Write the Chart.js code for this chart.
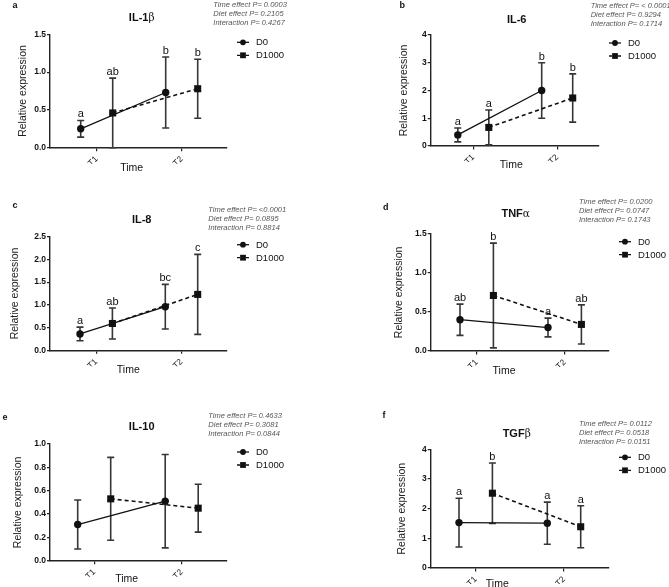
<!DOCTYPE html>
<html>
<head>
<meta charset="utf-8">
<script src="https://cdn.jsdelivr.net/npm/chart.js@4.4.1/dist/chart.umd.min.js"></script>
<style>
  body { margin: 0; background: #fff; }
  #page { position: relative; width: 669px; height: 587px; overflow: hidden;
          font-family: "Liberation Sans", Arial, sans-serif; color: #111; }
  #page canvas { position: absolute; }
  .lbl { position: absolute; transform: translate(-50%, -50%); white-space: nowrap; }
  .tag { font-weight: bold; font-size: 9px; }
  .ttl { font-weight: bold; font-size: 11px; }
  .ttl span { font-weight: normal; font-family: "DejaVu Serif", serif; font-size: 10.5px; }
  .time { font-size: 10.5px; }
  .pv { position: absolute; font-style: italic; font-size: 7.5px; line-height: 9px;
        color: #555; white-space: nowrap; }
</style>
</head>
<body>
<div id="page"></div>
<script>
const times = ['T1', 'T2'];
const groups = ['D0', 'D1000'];

// IL-1b
const il1bD0 = [0.25, 0.73];
const il1bD0Sd = [0.11, 0.47];
const il1bD1000 = [0.46, 0.78];
const il1bD1000Sd = [0.46, 0.39];
const il1bD0Letters = ['a', 'b'];
const il1bD1000Letters = ['ab', 'b'];
const il1bP = ['Time effect P= 0.0003', 'Diet effect P=  0.2105', 'Interaction P= 0.4267'];

// IL-6
const il6D0 = [0.40, 2.00];
const il6D0Sd = [0.25, 1.00];
const il6D1000 = [0.67, 1.73];
const il6D1000Sd = [0.63, 0.87];
const il6D0Letters = ['a', 'b'];
const il6D1000Letters = ['a', 'b'];
const il6P = ['Time effect P= < 0.0001', 'Diet effect P= 0.9294', 'Interaction P= 0.1714'];

// IL-8
const il8D0 = [0.36, 0.96];
const il8D0Sd = [0.15, 0.49];
const il8D1000 = [0.59, 1.23];
const il8D1000Sd = [0.34, 0.88];
const il8D0Letters = ['a', 'bc'];
const il8D1000Letters = ['ab', 'c'];
const il8P = ['Time effect P= <0.0001', 'Diet effect P= 0.0895', 'Interaction P= 0.8814'];

// TNFa
const tnfD0 = [0.40, 0.30];
const tnfD0Sd = [0.20, 0.12];
const tnfD1000 = [0.71, 0.34];
const tnfD1000Sd = [0.67, 0.25];
const tnfD0Letters = ['ab', 'a'];
const tnfD1000Letters = ['b', 'ab'];
const tnfP = ['Time effect P= 0.0200', 'Diet effect P= 0.0747', 'Interaction P= 0.1743'];

// IL-10
const il10D0 = [0.31, 0.51];
const il10D0Sd = [0.21, 0.40];
const il10D1000 = [0.53, 0.45];
const il10D1000Sd = [0.355, 0.205];
const il10P = ['Time effect P= 0.4633', 'Diet effect P= 0.3081', 'Interaction P= 0.0844'];

// TGFb
const tgfD0 = [1.53, 1.51];
const tgfD0Sd = [0.82, 0.71];
const tgfD1000 = [2.52, 1.39];
const tgfD1000Sd = [1.02, 0.71];
const tgfD0Letters = ['a', 'a'];
const tgfD1000Letters = ['b', 'a'];
const tgfP = ['Time effect P= 0.0112', 'Diet effect P= 0.0518', 'Interaction P= 0.0151'];

const panels = [
  { tag: 'a', title: 'IL-1', greek: 'β', p: il1bP, yMax: 1.5, yStep: 0.5, dec: 1,
    series: [[il1bD0, il1bD0Sd, il1bD0Letters], [il1bD1000, il1bD1000Sd, il1bD1000Letters]],
    ox: 0, oy: 0, w: 334, h: 190, L: 50, R: 227, T: 34.3, B: 147.7, t1: 96.7, t2: 181.7, dodge: 16,
    yTitleX: 22.7, tagXY: [15, 5], titleXY: [141.7, 17.3], pXY: [213.3, 0], timeXY: [131.7, 166.7] },
  { tag: 'b', title: 'IL-6', greek: '', p: il6P, yMax: 4, yStep: 1, dec: 0,
    series: [[il6D0, il6D0Sd, il6D0Letters], [il6D1000, il6D1000Sd, il6D1000Letters]],
    ox: 334, oy: 0, w: 335, h: 190, L: 430.7, R: 599, T: 35, B: 146, t1: 473.3, t2: 557.2, dodge: 15.5,
    yTitleX: 404, tagXY: [402.3, 5], titleXY: [516.7, 19], pXY: [590.7, 1.2], timeXY: [511.3, 164] },
  { tag: 'c', title: 'IL-8', greek: '', p: il8P, yMax: 2.5, yStep: 0.5, dec: 1,
    series: [[il8D0, il8D0Sd, il8D0Letters], [il8D1000, il8D1000Sd, il8D1000Letters]],
    ox: 0, oy: 190, w: 334, h: 200, L: 50, R: 227, T: 236.7, B: 350.3, t1: 96.2, t2: 181.5, dodge: 16.2,
    yTitleX: 15, tagXY: [15, 205], titleXY: [141.7, 219.3], pXY: [208.3, 204.8], timeXY: [128.3, 369] },
  { tag: 'd', title: 'TNF', greek: 'α', p: tnfP, yMax: 1.5, yStep: 0.5, dec: 1,
    series: [[tnfD0, tnfD0Sd, tnfD0Letters], [tnfD1000, tnfD1000Sd, tnfD1000Letters]],
    ox: 334, oy: 190, w: 335, h: 200, L: 430.7, R: 609, T: 233.7, B: 351, t1: 476.7, t2: 564.7, dodge: 16.7,
    yTitleX: 399, tagXY: [385.7, 206.7], titleXY: [515.7, 213.3], pXY: [579, 197.2], timeXY: [504, 370] },
  { tag: 'e', title: 'IL-10', greek: '', p: il10P, yMax: 1.0, yStep: 0.2, dec: 1,
    series: [[il10D0, il10D0Sd, null], [il10D1000, il10D1000Sd, null]],
    ox: 0, oy: 390, w: 334, h: 197, L: 50, R: 227, T: 444, B: 560.7, t1: 94.2, t2: 181.7, dodge: 16.5,
    yTitleX: 18.3, tagXY: [5, 416.7], titleXY: [141.7, 426], pXY: [208.3, 410.5], timeXY: [126.7, 578.3] },
  { tag: 'f', title: 'TGF', greek: 'β', p: tgfP, yMax: 4, yStep: 1, dec: 0,
    series: [[tgfD0, tgfD0Sd, tgfD0Letters], [tgfD1000, tgfD1000Sd, tgfD1000Letters]],
    ox: 334, oy: 390, w: 335, h: 197, L: 430.7, R: 609, T: 449.3, B: 568, t1: 475.7, t2: 564, dodge: 16.7,
    yTitleX: 402.3, tagXY: [384, 415], titleXY: [516.7, 433.3], pXY: [579, 418.8], timeXY: [497.3, 582.7] },
];

const INK = '#111';
const BAR = '#363636';

// error bars under the lines and markers
const errorBars = {
  id: 'errorBars',
  beforeDatasetsDraw(chart) {
    const ctx = chart.ctx, y = chart.scales.y;
    chart.data.datasets.forEach((ds, di) => {
      chart.getDatasetMeta(di).data.forEach((pt, i) => {
        const m = ds.data[i].y, e = ds.sd[i];
        const top = y.getPixelForValue(m + e);
        const bot = y.getPixelForValue(Math.max(m - e, y.min));
        ctx.save();
        ctx.strokeStyle = BAR;
        ctx.lineWidth = 1.6;
        ctx.beginPath();
        ctx.moveTo(pt.x, top); ctx.lineTo(pt.x, bot);
        ctx.moveTo(pt.x - 3.5, top); ctx.lineTo(pt.x + 3.5, top);
        ctx.moveTo(pt.x - 3.5, bot); ctx.lineTo(pt.x + 3.5, bot);
        ctx.stroke();
        ctx.restore();
      });
    });
  },
  afterDatasetsDraw(chart) {
    const ctx = chart.ctx, y = chart.scales.y;
    chart.data.datasets.forEach((ds, di) => {
      if (!ds.letters) return;
      chart.getDatasetMeta(di).data.forEach((pt, i) => {
        const top = y.getPixelForValue(ds.data[i].y + ds.sd[i]);
        ctx.save();
        ctx.font = '11px "Liberation Sans", Arial, sans-serif';
        ctx.fillStyle = INK;
        ctx.textAlign = 'center';
        ctx.textBaseline = 'alphabetic';
        ctx.fillText(ds.letters[i], pt.x, top - 3);
        ctx.restore();
      });
    });
  }
};

// line + marker legend to the right of the plot
const sideLegend = {
  id: 'sideLegend',
  afterDraw(chart) {
    const { ctx, chartArea } = chart;
    chart.data.datasets.forEach((ds, i) => {
      const y = chartArea.top + 8 + 13 * i;
      const x0 = chartArea.right + 10;
      ctx.save();
      ctx.strokeStyle = INK;
      ctx.fillStyle = INK;
      ctx.lineWidth = 1.3;
      ctx.beginPath();
      if (ds.pointStyle === 'circle') {
        ctx.moveTo(x0, y); ctx.lineTo(x0 + 12, y);
      } else {
        ctx.moveTo(x0, y); ctx.lineTo(x0 + 3, y);
        ctx.moveTo(x0 + 9, y); ctx.lineTo(x0 + 12, y);
      }
      ctx.stroke();
      ctx.beginPath();
      if (ds.pointStyle === 'circle') ctx.arc(x0 + 6, y, 2.9, 0, Math.PI * 2);
      else ctx.rect(x0 + 3.1, y - 2.9, 5.8, 5.8);
      ctx.fill();
      ctx.font = '9.5px "Liberation Sans", Arial, sans-serif';
      ctx.textBaseline = 'middle';
      ctx.fillText(ds.label, x0 + 19, y + 0.5);
      ctx.restore();
    });
  }
};

const page = document.getElementById('page');

function addText(cls, xy, html) {
  const d = document.createElement('div');
  d.className = 'lbl ' + cls;
  d.style.left = xy[0] + 'px';
  d.style.top = xy[1] + 'px';
  d.innerHTML = html;
  page.appendChild(d);
}

panels.forEach(p => {
  const unit = p.t2 - p.t1;
  const xMin = 1 - (p.t1 - p.L) / unit;
  const xMax = 2 + (p.R - p.t2) / unit;
  const shift = p.dodge / unit;
  const lh = 10.5 * 1.2;
  const padLeft = p.yTitleX - p.ox - lh / 2;
  const yWidth = p.L - p.ox - padLeft;
  const xHeight = 16;

  const canvas = document.createElement('canvas');
  canvas.width = p.w;
  canvas.height = p.h;
  canvas.style.left = p.ox + 'px';
  canvas.style.top = p.oy + 'px';
  page.appendChild(canvas);

  new Chart(canvas, {
    type: 'line',
    data: {
      datasets: p.series.map(([mean, sd, letters], k) => ({
        label: groups[k],
        data: mean.map((m, i) => ({ x: i + 1 + (k === 0 ? -shift : shift), y: m })),
        sd: sd,
        letters: letters,
        borderColor: INK,
        backgroundColor: INK,
        borderWidth: k === 0 ? 1.3 : 1.6,
        borderDash: k === 0 ? [] : [4, 3],
        pointStyle: k === 0 ? 'circle' : 'rect',
        pointRadius: k === 0 ? 3.7 : 5,
        pointBorderWidth: 0,
        tension: 0,
        clip: false,
      })),
    },
    options: {
      responsive: false,
      animation: false,
      layout: {
        padding: {
          left: padLeft,
          top: p.T - p.oy,
          right: p.ox + p.w - p.R,
          bottom: p.oy + p.h - p.B - xHeight,
        },
      },
      plugins: { legend: { display: false }, tooltip: { enabled: false } },
      scales: {
        x: {
          type: 'linear',
          min: xMin,
          max: xMax,
          afterBuildTicks: s => { s.ticks = times.map((t, i) => ({ value: i + 1 })); },
          afterFit: s => { s.height = xHeight; },
          ticks: {
            autoSkip: false, minRotation: 45, maxRotation: 45, padding: 3,
            color: INK, font: { size: 8.5 },
            callback: v => times[Math.round(v) - 1],
          },
          grid: { drawOnChartArea: false, tickLength: 3.5, color: '#222', lineWidth: 1.2 },
          border: { color: '#222', width: 1.4 },
        },
        y: {
          min: 0,
          max: p.yMax,
          afterFit: s => { s.width = yWidth; },
          ticks: {
            stepSize: p.yStep, padding: 1, color: INK,
            font: { size: 8.5, weight: 'bold' },
            callback: v => v.toFixed(p.dec),
          },
          grid: { drawOnChartArea: false, tickLength: 3, color: '#222', lineWidth: 1.2 },
          border: { color: '#222', width: 1.4 },
          title: { display: true, text: 'Relative expression', padding: 0, color: '#222', font: { size: 10.5 } },
        },
      },
    },
    plugins: [errorBars, sideLegend],
  });

  addText('tag', p.tagXY, p.tag);
  addText('ttl', p.titleXY, p.title + (p.greek ? '<span>' + p.greek + '</span>' : ''));
  addText('time', p.timeXY, 'Time');
  const pv = document.createElement('div');
  pv.className = 'pv';
  pv.style.left = p.pXY[0] + 'px';
  pv.style.top = p.pXY[1] + 'px';
  pv.innerHTML = p.p.join('<br>');
  page.appendChild(pv);
});
</script>
</body>
</html>
